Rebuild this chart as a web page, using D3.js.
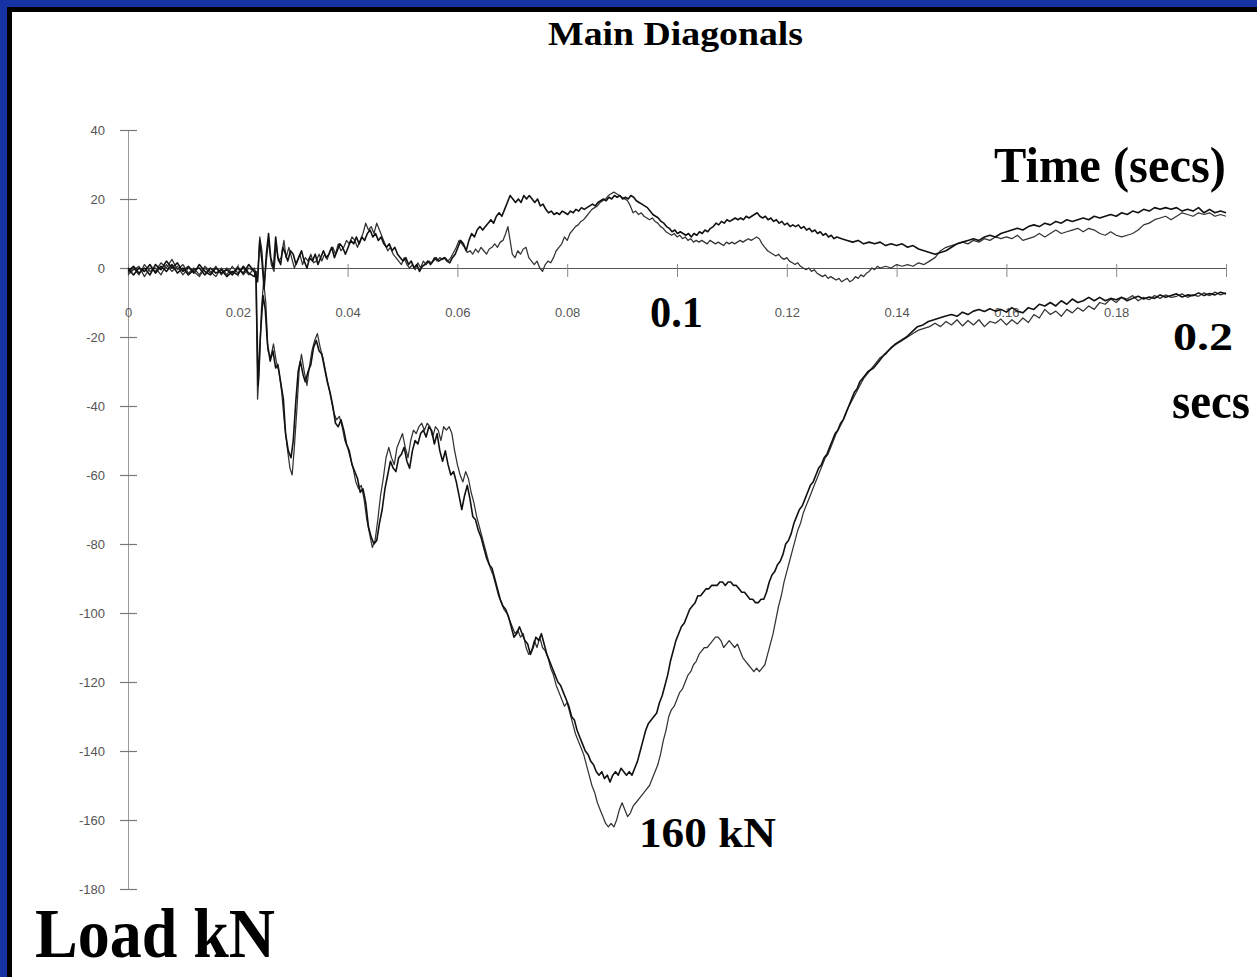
<!DOCTYPE html>
<html><head><meta charset="utf-8">
<script src="https://cdn.jsdelivr.net/npm/d3@7"></script>
<style>html,body{margin:0;padding:0;background:#1533a3;}svg{display:block;}</style>
</head><body>
<script>
// time in ms, load in kN
const xTickValues = [0,20,40,60,80,100,120,140,160,180,200];
const xTickLabels = ["0","0.02","0.04","0.06","0.08","","0.12","0.14","0.16","0.18",""];
const yTickValues = [40,20,0,-20,-40,-60,-80,-100,-120,-140,-160,-180];
const yTickLabels = ["40","20","0","-20","-40","-60","-80","-100","-120","-140","-160","-180"];

const upperA = [[0,-1],[1,0.5],[2,-1.5],[3,0],[4,-2],[5,1],[6,-0.5],[7,2],[8,0],[9,1.5],[10,-1],[11,0.5],[12,-1.5],[13,1],[14,-1],[15,-2],[16,0],[17,-1.5],[18,-0.5],[19,-2],[20,0],[21,-1.5],[22,1],[23,-1],
[23.6,-4],[24.0,8],[24.4,2],[24.8,-6],[25.2,4],[25.6,10],[26.0,3],[26.5,0],[26.9,9],[27.3,3],[27.8,1],[28.2,6],[28.7,4],[29.1,2],[29.6,5],[30.1,4],[30.6,1],[31.1,3],[31.6,5],[32.1,2],[32.6,0],[33.1,3],[33.6,2],[34.1,4],[34.6,1],[35.1,3],[35.6,5],[36.1,3],[36.6,4],[37.1,6],[37.6,3],[38.1,5],[38.6,7],[39.1,6],[39.6,4],[40.1,6],[40.6,8],[41.1,7],[41.6,9],[42.1,7],[42.6,9],[43.1,8],[43.6,10],[44.1,11],[44.6,9],[45.1,10],[45.6,8],[46.1,9],[46.6,7],[47.1,6],[47.6,7],[48.1,5],[48.6,6],[49.1,4],[49.6,3],[50.1,2],[50.6,3],[51.1,1],[51.6,2],[52.1,0],[52.6,1],[53.1,-1],[53.6,0.5],[54.1,1],[54.6,2],[55.1,1],[55.6,2],[56.1,3],[56.6,2],[57.1,2.5],[57.6,3],[58.1,2],[58.6,1.5],[59.1,3],[59.6,4],[60.1,6],[60.6,8],[61.1,7],[61.6,5],[62.1,8],[62.6,10],[63.1,9],[63.6,11],[64.1,12],[64.6,11],[65.1,12],[65.6,13],[66.1,14],[66.6,13],[67.1,15],[67.6,16],[68.1,15],[68.6,17],[69.1,19],[69.6,21],[70.1,20],[70.6,19],[71.1,20],[71.6,19],[72.1,21],[72.6,20],[73.1,21],[73.6,20],[74.1,19],[74.6,20],[75.1,18],[75.6,18.5],[76.1,17],[76.6,16],[77.1,16.5],[77.6,15.5],[78.1,16],[78.6,15.5],[79.1,16.5],[79.6,16],[80.1,15.5],[80.6,16.5],[81.1,16],[81.6,17],[82.1,16.5],[82.6,17.5],[83.1,17],[83.6,17.5],[84.1,18],[84.6,18.5],[85.1,18],[85.6,19],[86.1,19.5],[86.6,20],[87.1,19.5],[87.6,20.5],[88.1,20],[88.6,21],[89.1,20.5],[89.6,21],[90.1,20],[90.6,20.5],[91.1,20],[91.6,21],[92.1,20.5],[92.6,19.5],[93.1,19],[93.6,18.5],[94.1,18],[94.6,17.5],[95.1,16.5],[95.6,15.5],[96.1,15],[96.6,14.5],[97.1,13.5],[97.6,13],[98.1,12],[98.6,11.5],[99.1,10.5],[99.6,11],[100.1,10],[100.6,10.5],[101.1,10],[101.6,9.5],[102.1,10],[102.6,9],[103.1,10],[103.6,9.5],[104.1,10.5],[104.6,10],[105.1,11],[105.6,10.5],[106.1,11.5],[106.6,12],[107.1,13],[107.6,12.5],[108.1,13.5],[108.6,13],[109.1,14],[109.6,13.5],[110.1,14],[110.6,14.5],[111.1,14],[111.6,14.5],[112.1,14],[112.6,15],[113.1,14.5],[113.6,15],[114.1,15.5],[114.6,16],[115.1,15],[115.6,14.5],[116.1,15],[116.6,14],[117.1,14.5],[117.6,13.5],[118.1,14],[118.6,13],[119.1,13.5],[119.6,12.5],[120.1,13],[120.6,12],[121.1,12.5],[121.6,12],[122.1,12.5],[122.6,11.5],[123.1,12],[123.6,11],[124.1,11.5],[124.6,10.5],[125.1,11],[125.6,10],[126.1,10.5],[126.6,9.5],[127.1,10],[127.6,9],[128.1,9.5],[128.6,8.5],[129.1,9],[130,8.5],[131,8],[132,7.5],[133,8],[134,7],[135,7.5],[136,7],[137,7.5],[138,6.5],[139,7],[140,6.5],[141,7],[142,6],[143,6.5],[144,5.5],[145,5],[146,4.5],[147,4],[148,4.5],[149,5],[150,6],[151,7],[152,7.5],[153,8],[154,8.5],[155,8],[156,9],[157,9.5],[158,9],[159,10],[160,10.5],[161,11],[162,11.5],[163,11],[164,12],[165,12.5],[166,12],[167,13],[168,12.5],[169,13.5],[170,13],[171,14],[172,13.5],[173,14],[174,14.5],[175,14],[176,15],[177,14.5],[178,15],[179,15.5],[180,15],[181,16],[182,15.5],[183,16.5],[184,16],[185,17],[186,16.5],[187,17.5],[188,17],[189,17.5],[190,17],[191,17.5],[192,16.5],[193,17],[194,16.5],[195,17.5],[196,16],[197,17],[198,16],[199,16.5],[200,16]];

const upperB = [[0,-2],[1,-0.5],[2,0.5],[3,-2.5],[4,0],[5,-1],[6,1.5],[7,0],[8,2.5],[9,-0.5],[10,1],[11,-1.5],[12,0],[13,-2],[14,0.5],[15,-1],[16,-2.5],[17,0],[18,-2],[19,0.5],[20,-1.5],[21,0],[22,-2],[23,0],
[23.6,-3],[24.0,9],[24.4,5],[24.8,-5],[25.2,2],[25.6,8],[26.1,1],[26.6,-1],[27.0,7],[27.4,2],[27.9,3],[28.4,8],[28.8,3],[29.3,6],[29.8,3],[30.3,0],[30.8,2],[31.3,4],[31.8,1],[32.3,3],[32.8,2],[33.3,4],[33.8,1.5],[34.3,2],[34.8,4],[35.3,2],[35.8,4],[36.3,2.5],[36.8,5],[37.3,6],[37.8,4],[38.3,7],[38.8,5],[39.3,6],[39.8,8],[40.3,7],[40.8,9],[41.3,8],[41.8,6],[42.3,8],[42.8,10],[43.3,13],[43.8,11],[44.3,12],[44.8,10],[45.3,13],[45.8,11],[46.3,9],[46.8,7],[47.3,5],[47.8,6],[48.3,4],[48.8,3],[49.3,2],[49.8,1],[50.3,3],[50.8,1],[51.3,0],[51.8,1],[52.3,-0.5],[52.8,1.5],[53.3,0],[53.8,2],[54.3,1],[54.8,2],[55.3,1.5],[55.8,3],[56.3,2],[56.8,3],[57.3,2.5],[57.8,3],[58.3,2],[58.8,3],[59.3,4.5],[59.8,6],[60.3,8],[60.8,7],[61.3,6],[61.8,4.5],[62.3,5],[62.8,4],[63.3,5.5],[63.8,4.5],[64.3,6],[64.8,5],[65.3,4],[65.8,5.5],[66.3,6],[66.8,7],[67.3,6],[67.8,7.5],[68.3,8],[68.8,10],[69.2,12],[69.6,8],[70.0,4],[70.5,3],[71.0,5],[71.5,4],[72.0,5.5],[72.5,6],[73.0,3],[73.5,2],[74.0,1],[74.5,2],[75.0,0],[75.5,-1],[76.0,1],[76.5,2],[77.0,1.5],[77.5,3],[78.0,5],[78.5,6],[79.0,7],[79.5,9],[80.0,8],[80.5,10],[81.0,11],[81.5,12],[82.0,12.5],[82.5,13.5],[83.0,14],[83.5,15],[84.0,16],[84.5,17],[85.0,17.5],[85.5,18],[86.0,19],[86.5,19.5],[87.0,20],[87.5,21],[88.0,21.5],[88.5,22],[89.0,21.5],[89.5,21],[90.0,20.5],[90.5,20],[91.0,19.5],[91.5,18],[92.0,16],[92.5,16.5],[93.0,15.5],[93.5,16],[94.0,15],[94.5,14.5],[95.0,14],[95.5,14.5],[96.0,13.5],[96.5,13],[97.0,12],[97.5,11.5],[98.0,10.5],[98.5,10],[99.0,9.5],[99.5,10],[100.0,9],[100.5,9.5],[101.0,8.5],[101.5,9],[102.0,8],[102.5,8.5],[103.0,7.5],[103.5,8],[104.0,7.5],[104.5,8],[105.0,7.5],[105.5,7],[106.0,8],[106.5,7.5],[107.0,7],[107.5,7.5],[108.0,7],[108.5,6.5],[109.0,7.5],[109.5,7],[110.0,7.5],[110.5,7],[111.0,7.5],[111.5,8],[112.0,7.5],[112.5,8],[113.0,8.5],[113.5,8],[114.0,8.5],[114.5,9],[115.0,8.5],[115.5,7],[116.0,6],[116.5,5],[117.0,4.5],[117.5,4],[118.0,3.5],[118.5,4],[119.0,3],[119.5,2.5],[120.0,3],[120.5,2],[121.0,1.5],[121.5,1],[122.0,1.5],[122.5,0.5],[123.0,0],[123.5,-0.5],[124.0,0],[124.5,-1],[125.0,-0.5],[125.5,-1.5],[126.0,-2],[126.5,-2.5],[127.0,-2],[127.5,-3],[128.0,-2.5],[128.5,-3],[129.0,-3.5],[129.5,-3],[130.0,-4],[130.5,-3.5],[131.0,-3],[131.5,-4],[132.0,-3.5],[132.5,-2.5],[133.0,-3],[133.5,-2],[134.0,-2.5],[134.5,-1.5],[135.0,-1],[135.5,0],[136.0,-0.5],[136.5,0.5],[137,0],[138,0.5],[139,0],[140,1],[141,0.5],[142,1],[143,0.5],[144,1.5],[145,1],[146,2],[147,3],[148,5],[149,6],[150,6.5],[151,7],[152,7.5],[153,7],[154,8],[155,7.5],[156,8.5],[157,8],[158,9],[159,8.5],[160,9],[161,8.5],[162,9.5],[163,8],[164,8.5],[165,9],[166,10],[167,9],[168,10],[169,11],[170,10],[171,10.5],[172,11],[173,11.5],[174,10.5],[175,11.5],[176,11],[177,10],[178,9.5],[179,10.5],[180,9.5],[181,9],[182,9.5],[183,10],[184,11],[185,12.5],[186,13],[187,14],[188,14.5],[189,15],[190,14],[191,15],[192,16],[193,15.5],[194,15],[195,16],[196,15.5],[197,16],[198,15],[199,15.5],[200,15]];

const lowerA = [[0,0],[1,-2],[2,0],[3,-1],[4,1],[5,-1.5],[6,0.5],[7,-1],[8,1],[9,-1.5],[10,0],[11,-2],[12,-0.5],[13,0],[14,-2],[15,0],[16,-1.5],[17,-0.5],[18,-2.5],[19,-1],[20,-2],[21,0.5],[22,-1.5],[23,-2.5],
[23.3,-1],[23.7,-34],[24.1,-20],[24.6,-8],[25.0,-12],[25.4,-22],[25.9,-27],[26.4,-24],[26.9,-29],[27.3,-28],[27.8,-33],[28.3,-38],[28.7,-48],[29.2,-53],[29.7,-55],[30.1,-50],[30.6,-38],[31.0,-30],[31.4,-27],[31.9,-31],[32.3,-33],[32.8,-30],[33.3,-28],[33.8,-23],[34.3,-21],[34.8,-24],[35.3,-25],[35.8,-29],[36.3,-33],[36.8,-36],[37.3,-40],[37.8,-45],[38.3,-46],[38.8,-44],[39.3,-47],[39.8,-51],[40.3,-53],[40.8,-57],[41.3,-59],[41.8,-61],[42.3,-65],[42.8,-64],[43.3,-68],[43.8,-75],[44.3,-78],[44.8,-80],[45.3,-79],[45.8,-74],[46.3,-70],[46.8,-64],[47.3,-60],[47.8,-56],[48.3,-58],[48.8,-59],[49.3,-55],[49.8,-54],[50.3,-52],[50.8,-56],[51.3,-58],[51.8,-53],[52.3,-50],[52.8,-51],[53.3,-48],[53.8,-47],[54.3,-49],[54.8,-46],[55.3,-47],[55.8,-51],[56.3,-48],[56.8,-53],[57.3,-56],[57.8,-53],[58.3,-57],[58.8,-60],[59.3,-59],[59.8,-62],[60.3,-66],[60.8,-70],[61.3,-66],[61.8,-63],[62.3,-67],[62.8,-72],[63.3,-73],[63.8,-76],[64.3,-78],[64.8,-81],[65.3,-84],[65.8,-86],[66.3,-87],[66.8,-90],[67.3,-93],[67.8,-96],[68.3,-98],[68.8,-99],[69.3,-101],[69.8,-104],[70.3,-107],[70.8,-106],[71.3,-104],[71.8,-106],[72.3,-108],[72.8,-109],[73.3,-112],[73.8,-110],[74.3,-107],[74.8,-108],[75.3,-106],[75.8,-109],[76.3,-112],[76.8,-114],[77.3,-116],[77.8,-118],[78.3,-120],[78.8,-121],[79.3,-123],[79.8,-125],[80.3,-127],[80.8,-130],[81.3,-131],[81.8,-134],[82.3,-136],[82.8,-138],[83.3,-140],[83.8,-141],[84.3,-143],[84.8,-144],[85.3,-146],[85.8,-147],[86.3,-146],[86.8,-148],[87.3,-147],[87.8,-149],[88.3,-147],[88.8,-146],[89.3,-147],[89.8,-145],[90.3,-146],[90.8,-147],[91.3,-146],[91.8,-147],[92.3,-145],[92.8,-143],[93.3,-140],[93.8,-137],[94.3,-134],[94.8,-132],[95.3,-131],[95.8,-130],[96.3,-129],[96.8,-126],[97.3,-124],[97.8,-121],[98.3,-118],[98.8,-114],[99.3,-111],[99.8,-108],[100.3,-106],[100.8,-104],[101.3,-103],[101.8,-101],[102.3,-99],[102.8,-98],[103.3,-97],[103.8,-95],[104.3,-95],[104.8,-94],[105.3,-93],[105.8,-93],[106.3,-92],[106.8,-92],[107.3,-92],[107.8,-91],[108.3,-91],[108.8,-92],[109.3,-91],[109.8,-91],[110.3,-92],[110.8,-92],[111.3,-93],[111.8,-94],[112.3,-94],[112.8,-95],[113.3,-96],[113.8,-96],[114.3,-97],[114.8,-97],[115.3,-96],[115.8,-96],[116.3,-94],[116.8,-91],[117.3,-89],[117.8,-88],[118.3,-86],[118.8,-85],[119.3,-83],[119.8,-80],[120.3,-79],[120.8,-77],[121.3,-74],[121.8,-72],[122.3,-70],[122.8,-69],[123.3,-67],[123.8,-65],[124.3,-63],[124.8,-62],[125.3,-60],[125.8,-58],[126.3,-57],[126.8,-55],[127.3,-54],[127.8,-52],[128.3,-50],[128.8,-48],[129.3,-47],[129.8,-45],[130.3,-44],[130.8,-42],[131.3,-40],[131.8,-38],[132.3,-36],[132.8,-35],[133.3,-33],[133.8,-32],[134.3,-31],[134.8,-30],[135.3,-29.5],[135.8,-29],[136.8,-27],[137.8,-25],[138.8,-23.5],[139.8,-22],[140.8,-21],[141.8,-20],[142.8,-18.5],[143.8,-17],[144.8,-16.5],[145.8,-15.5],[146.8,-15],[147.8,-14.5],[148.8,-14],[150,-13.5],[151,-14],[152,-12.8],[153,-13.5],[154,-12.5],[155,-12],[156,-12.6],[157,-11.8],[158,-12.5],[159,-12],[160,-12.8],[161,-11.5],[162,-12.5],[163,-13],[164,-11.5],[165,-12],[166,-10.5],[167,-11],[168,-10],[169,-11],[170,-9.5],[171,-10.5],[172,-9],[173,-10],[174,-9.5],[175,-8.5],[176,-9.5],[177,-8.5],[178,-9.5],[179,-8.8],[180,-9.2],[181,-8.5],[182,-9.5],[183,-8.8],[184,-8.2],[185,-9],[186,-8.4],[187,-8.8],[188,-7.8],[189,-8.5],[190,-8],[191,-7.5],[192,-8.4],[193,-7.8],[194,-8],[195,-7.2],[196,-8],[197,-7.4],[198,-7.8],[199,-7],[200,-7.5]];

const lowerB = [[0,-1.5],[1,0],[2,-2],[3,1],[4,-1],[5,0],[6,-2],[7,1],[8,-1],[9,0.5],[10,-2],[11,0],[12,-1],[13,-2.5],[14,0],[15,-1.5],[16,0.5],[17,-2],[18,0],[19,-1.5],[20,0.5],[21,-2],[22,0],[23,-1],
[23.3,-1],[23.6,-38],[23.9,-30],[24.3,-12],[24.7,-4],[25.1,-10],[25.5,-24],[26.0,-26],[26.5,-22],[27.0,-27],[27.5,-30],[28.0,-36],[28.5,-45],[29.0,-52],[29.5,-58],[29.9,-60],[30.3,-52],[30.8,-40],[31.2,-29],[31.6,-25],[32.1,-30],[32.6,-34],[33.0,-29],[33.5,-24],[34.0,-21],[34.5,-19],[35.0,-23],[35.5,-26],[36.0,-30],[36.5,-34],[37.0,-38],[37.5,-42],[38.0,-44],[38.5,-43],[39.0,-46],[39.5,-50],[40.0,-52],[40.5,-55],[41.0,-58],[41.5,-62],[42.0,-64],[42.5,-63],[43.0,-67],[43.5,-73],[44.0,-77],[44.5,-81],[45.0,-79],[45.5,-73],[46.0,-66],[46.5,-61],[47.0,-55],[47.5,-52],[48.0,-55],[48.5,-57],[49.0,-52],[49.5,-50],[50.0,-48],[50.5,-52],[51.0,-55],[51.5,-50],[52.0,-47],[52.5,-48],[53.0,-46],[53.5,-45],[54.0,-47],[54.5,-45],[55.0,-46],[55.5,-49],[56.0,-46],[56.5,-47],[57.0,-50],[57.5,-46],[58.0,-47],[58.5,-46],[59.0,-48],[59.5,-53],[60.0,-57],[60.5,-60],[61.0,-62],[61.5,-59],[62.0,-61],[62.5,-65],[63.0,-68],[63.5,-72],[64.0,-75],[64.5,-78],[65.0,-81],[65.5,-84],[66.0,-87],[66.5,-89],[67.0,-92],[67.5,-95],[68.0,-97],[68.5,-99],[69.0,-100],[69.5,-102],[70.0,-104],[70.5,-106],[71.0,-105],[71.5,-107],[72.0,-106],[72.5,-110],[73.0,-112],[73.5,-111],[74.0,-108],[74.5,-110],[75.0,-107],[75.5,-110],[76.0,-111],[76.5,-113],[77.0,-116],[77.5,-118],[78.0,-121],[78.5,-123],[79.0,-125],[79.5,-127],[80.0,-126],[80.5,-129],[81.0,-132],[81.5,-135],[82.0,-137],[82.5,-139],[83.0,-141],[83.5,-144],[84.0,-147],[84.5,-150],[85.0,-152],[85.5,-155],[86.0,-157],[86.5,-159],[87.0,-161],[87.5,-162],[88.0,-161],[88.5,-162],[89.0,-160],[89.5,-157],[90.0,-155],[90.5,-157],[91.0,-159],[91.5,-158],[92.0,-156],[92.5,-155],[93.0,-154],[93.5,-153],[94.0,-152],[94.5,-151],[95.0,-150],[95.5,-148],[96.0,-146],[96.5,-144],[97.0,-141],[97.5,-137],[98.0,-134],[98.5,-130],[99.0,-128],[99.5,-127],[100.0,-125],[100.5,-123],[101.0,-122],[101.5,-120],[102.0,-118],[102.5,-117],[103.0,-115],[103.5,-114],[104.0,-112],[104.5,-111],[105.0,-110],[105.5,-110],[106.0,-109],[106.5,-108],[107.0,-107],[107.5,-107],[108.0,-108],[108.5,-110],[109.0,-109],[109.5,-108],[110.0,-109],[110.5,-110],[111.0,-109],[111.5,-111],[112.0,-113],[112.5,-114],[113.0,-115],[113.5,-116],[114.0,-117],[114.5,-116],[115.0,-117],[115.5,-116],[116.0,-115],[116.5,-112],[117.0,-109],[117.5,-106],[118.0,-102],[118.5,-98],[119.0,-95],[119.5,-91],[120.0,-88],[120.5,-85],[121.0,-82],[121.5,-79],[122.0,-76],[122.5,-74],[123.0,-71],[123.5,-69],[124.0,-67],[124.5,-65],[125.0,-63],[125.5,-61],[126.0,-59],[126.5,-57],[127.0,-55],[127.5,-54],[128,-52],[129,-48],[130,-45],[131,-41],[132,-38],[133,-35],[134,-32],[135,-30],[136,-28],[137,-26],[138,-25],[139,-23],[140,-22],[141,-21],[142,-20],[143,-19],[144,-18],[145,-17.5],[146,-17],[147,-16],[148,-17],[149,-15.5],[150,-16.5],[151,-15],[152,-16.8],[153,-15.2],[154,-16.5],[155,-15],[156,-17],[157,-15.5],[158,-16],[159,-14.8],[160,-16.5],[161,-15],[162,-16.2],[163,-14.5],[164,-15.8],[165,-13.5],[166,-14.5],[167,-12],[168,-13.5],[169,-12.5],[170,-14],[171,-12],[172,-13],[173,-11.5],[174,-12.5],[175,-11],[176,-12],[177,-10],[178,-10.5],[179,-9],[180,-10],[181,-8.5],[182,-9],[183,-8],[184,-9.5],[185,-8.5],[186,-9.2],[187,-8],[188,-8.8],[189,-7.8],[190,-8.5],[191,-8.2],[192,-7.5],[193,-8.5],[194,-7.8],[195,-8.2],[196,-7.2],[197,-8],[198,-7],[199,-7.8],[200,-7.2]];

const W = 1257, H = 977;
const svg = d3.select("body").append("svg").attr("width", W).attr("height", H);

// frame
svg.append("rect").attr("x",0).attr("y",0).attr("width",W).attr("height",H).attr("fill","#1533a3");
svg.append("rect").attr("x",7).attr("y",7).attr("width",W-7).attr("height",H-7).attr("fill","#000");
svg.append("rect").attr("x",12).attr("y",12).attr("width",W-12).attr("height",H-12).attr("fill","#fff");

const x = d3.scaleLinear().domain([0,200]).range([128,1226]);
const y = d3.scaleLinear().domain([40,-180]).range([130,889]);

const tickFont = "'Liberation Sans', Arial, sans-serif";

// Y axis (left ticks with labels)
const gy = svg.append("g").attr("transform",`translate(${x(0)},0)`)
  .call(d3.axisLeft(y).tickValues(yTickValues).tickSizeInner(8).tickSizeOuter(0).tickPadding(15)
    .tickFormat((d,i)=>yTickLabels[i]));
gy.select(".domain").attr("stroke","#999").attr("stroke-width",1);
gy.selectAll(".tick line").attr("stroke","#777").attr("stroke-width",1.2);
gy.selectAll(".tick text").attr("fill","#555").style("font-family",tickFont).style("font-size","13px");
const gy2 = svg.append("g").attr("transform",`translate(${x(0)},0)`)
  .call(d3.axisRight(y).tickValues(yTickValues).tickSizeInner(9).tickSizeOuter(0).tickFormat(""));
gy2.select(".domain").remove();
gy2.selectAll(".tick line").attr("stroke","#777").attr("stroke-width",1.2);

// X axis at y=0
const gx = svg.append("g").attr("transform",`translate(0,${y(0)})`)
  .call(d3.axisBottom(x).tickValues(xTickValues).tickSizeInner(9).tickSizeOuter(0).tickPadding(31)
    .tickFormat((d,i)=>xTickLabels[i]));
gx.select(".domain").attr("stroke","#555").attr("stroke-width",1.2);
gx.selectAll(".tick line").attr("stroke","#888").attr("stroke-width",1);
gx.selectAll(".tick text").attr("fill","#555").style("font-family",tickFont).style("font-size","13px");
const gx2 = svg.append("g").attr("transform",`translate(0,${y(0)})`)
  .call(d3.axisTop(x).tickValues(xTickValues).tickSizeInner(4).tickSizeOuter(0).tickFormat(""));
gx2.select(".domain").remove();
gx2.selectAll(".tick line").attr("stroke","#888");

// curves
const line = d3.line().x(d=>x(d[0])).y(d=>y(d[1]));
const series = [
  {data: lowerB, color:"#333", w:1.25},
  {data: upperB, color:"#333", w:1.25},
  {data: lowerA, color:"#111", w:1.6},
  {data: upperA, color:"#111", w:1.6}
];
svg.append("g").selectAll("path").data(series).join("path")
  .attr("d", d=>line(d.data)).attr("fill","none")
  .attr("stroke", d=>d.color).attr("stroke-width", d=>d.w).attr("stroke-linejoin","round");

// texts
const serif = "'Liberation Serif','Times New Roman',serif";
function bigText(str, xx, yy, size, len, anchor) {
  const t = svg.append("text").attr("x",xx).attr("y",yy).text(str)
    .style("font-family",serif).style("font-weight","bold").style("font-size",size+"px")
    .attr("fill","#000").attr("text-anchor",anchor||"start");
  if (len) t.attr("textLength",len).attr("lengthAdjust","spacingAndGlyphs");
  return t;
}
bigText("Main Diagonals", 548, 45, 34, 255);
bigText("Time (secs)", 994, 182, 50, 232);
bigText("0.1", 650, 327, 44, 53);
bigText("0.2", 1173, 350, 40, 60);
bigText("secs", 1172, 418, 50, 78);
bigText("160 kN", 639, 847, 43, 137);
bigText("Load kN", 35, 957, 70, 240);
</script>
</body></html>
